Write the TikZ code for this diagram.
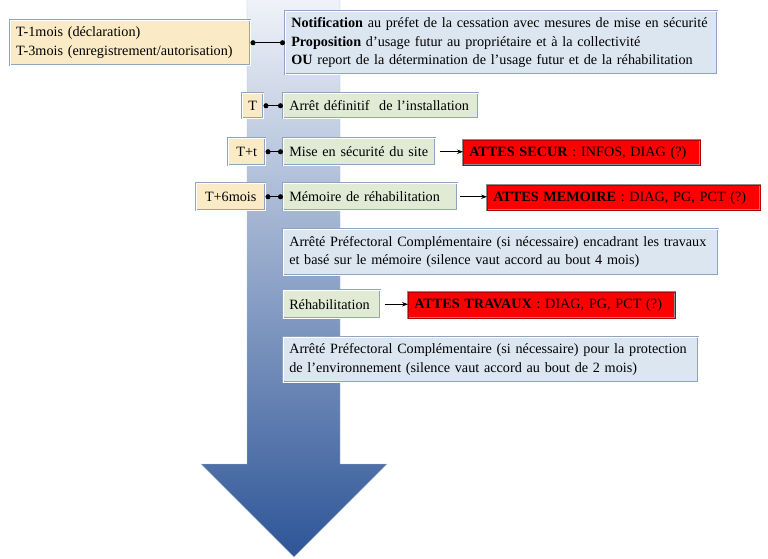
\documentclass[tikz,border=0pt]{standalone}
\usepackage{fontspec}
\setmainfont{Liberation Serif}
\usetikzlibrary{arrows.meta,shadows}
\definecolor{tanfill}{HTML}{FAEBC6}
\definecolor{bluefill}{HTML}{DCE6F1}
\definecolor{greenfill}{HTML}{E0EAD4}
\definecolor{boxline}{HTML}{8FA3C3}
\definecolor{arrtop}{HTML}{F0F3F9}
\definecolor{arrbot}{HTML}{2E5597}
\tikzset{
  base/.style={rectangle, anchor=north west, draw=boxline, line width=0.5pt,
    double=white, double distance=1pt, inner xsep=6pt, inner ysep=0pt,
    font=\fontsize{14.2}{18.5}\selectfont,
    drop shadow={shadow xshift=1.2pt, shadow yshift=-1.2pt, opacity=0.22, fill=black!60}},
  tanbox/.style={base, fill=tanfill},
  bluebox/.style={base, fill=bluefill, align=left},
  greenbox/.style={base, fill=greenfill, align=left},
  redbox/.style={base, fill=red, align=left, draw=black!45, double=red!70!black},
  dotline/.style={line width=0.8pt, {Circle[length=5pt]}-{Circle[length=5pt]}},
  arr/.style={line width=0.8pt, -{Stealth[length=6pt]}},
}
\begin{document}
\begin{tikzpicture}[x=1pt,y=-1pt]
\useasboundingbox (0,0) rectangle (768,558);
% big arrow
\shade[top color=arrtop, bottom color=arrbot, draw=boxline!70, line width=0.4pt]
  (247,-2) -- (340,-2) -- (340,464) -- (387,464) -- (294,557) -- (201,464) -- (247,464) -- cycle;

\node[tanbox, text width=228pt, minimum height=45pt, align=left] (tan) at (10,20)
  {T-1mois (déclaration)\\T-3mois (enregistrement/autorisation)};
\node[bluebox, text width=420pt, minimum height=63pt] (notif) at (285,11)
  {\textbf{Notification} au préfet de la cessation avec mesures de mise en sécurité\\
   \textbf{Proposition} d'usage futur au propriétaire et à la collectivité\\
   \textbf{OU} report de la détermination de l'usage futur et de la réhabilitation};

\node[tanbox, text width=9pt, minimum height=25pt, align=center, inner xsep=6pt] (t0) at (242,93) {T};
\node[greenbox, text width=183pt, minimum height=25pt] (g1) at (283,93) {Arrêt définitif~ de l'installation};

\node[tanbox, text width=25pt, minimum height=27pt, align=center] (t1) at (228,138) {T+t};
\node[greenbox, text width=140pt, minimum height=27pt] (g2) at (283,138) {Mise en sécurité du site};
\node[redbox, text width=225pt, minimum height=25pt] (r1) at (463,140) {\textbf{ATTES SECUR} : INFOS, DIAG (?)};

\node[tanbox, text width=59pt, minimum height=27pt, align=center, inner xsep=5pt] (t2) at (196,183) {T+6mois};
\node[greenbox, text width=162pt, minimum height=27pt] (g3) at (283,183) {Mémoire de réhabilitation};
\node[redbox, text width=261pt, minimum height=25pt] (r2) at (487,185) {\textbf{ATTES MEMOIRE} : DIAG, PG, PCT (?)};

\node[bluebox, text width=423pt, minimum height=46pt] (apc1) at (283,229)
  {Arrêté Préfectoral Complémentaire (si nécessaire) encadrant les travaux\\
   et basé sur le mémoire (silence vaut accord au bout 4 mois)};

\node[greenbox, text width=85pt, minimum height=28pt] (g4) at (283,290) {Réhabilitation};
\node[redbox, text width=255pt, minimum height=26pt] (r3) at (408,292) {\textbf{ATTES TRAVAUX} : DIAG, PG, PCT (?)};

\node[bluebox, text width=403pt, minimum height=45pt] (apc2) at (283,337)
  {Arrêté Préfectoral Complémentaire (si nécessaire) pour la protection\\
   de l'environnement (silence vaut accord au bout de 2 mois)};

% connectors
\draw[dotline] (tan.east) -- (tan.east -| notif.west);
\draw[dotline] (t0.east) -- (g1.west);
\draw[dotline] (t1.east) -- (g2.west);
\draw[dotline] (t2.east) -- (g3.west);
\draw[arr] ([xshift=4pt]g2.east) -- (g2.east -| r1.west);
\draw[arr] ([xshift=2pt]g3.east) -- (g3.east -| r2.west);
\draw[arr] ([xshift=4pt]g4.east) -- (g4.east -| r3.west);
\end{tikzpicture}
\end{document}
